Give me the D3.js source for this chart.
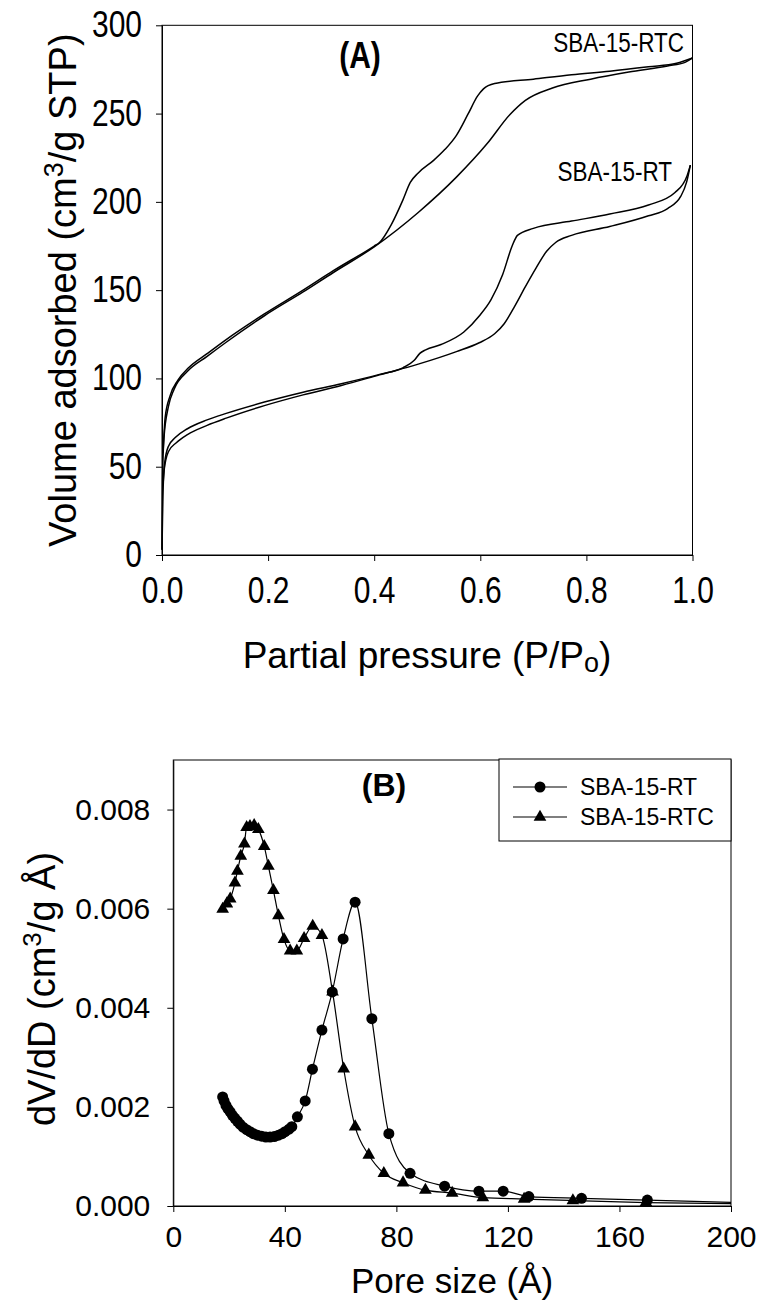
<!DOCTYPE html>
<html>
<head>
<meta charset="utf-8">
<script src="https://cdn.jsdelivr.net/npm/d3@7"></script>
<style>
  body { margin: 0; background: #fff; }
  svg { display: block; font-family: "Liberation Sans", Arial, sans-serif; }
</style>
</head>
<body>
<svg id="chart" width="762" height="1306"></svg>
<script>
// Panel A: N2 isotherms, [P/Po, volume adsorbed]
const rtAdsorption = [
  [0, 3], [0.0015, 30], [0.004, 48], [0.012, 58.5], [0.027, 63.6], [0.048, 68.2],
  [0.085, 73.4], [0.121, 77.5], [0.193, 84.6], [0.266, 90.7], [0.338, 96], [0.41, 102],
  [0.483, 108.1], [0.555, 115.2], [0.598, 120.2], [0.627, 125.3], [0.645, 131],
  [0.665, 141], [0.685, 152], [0.705, 162.5], [0.725, 172], [0.742, 177], [0.772, 181],
  [0.844, 186], [0.917, 192.1], [0.953, 196.2], [0.978, 203.2], [0.989, 211.3], [0.996, 220.8]
];
const rtDesorption = [
  [0.002, 40], [0.005, 52], [0.012, 61.5], [0.025, 66.5], [0.048, 71.5], [0.085, 76.5],
  [0.121, 80.2], [0.193, 86.6], [0.266, 92.2], [0.338, 97], [0.41, 102.3], [0.454, 106],
  [0.475, 110.1], [0.486, 114.2], [0.497, 116.2], [0.526, 119.2], [0.569, 126.3],
  [0.598, 135.4], [0.62, 144.5], [0.642, 158.7], [0.66, 175], [0.67, 181], [0.7, 185],
  [0.772, 189.1], [0.844, 193.1], [0.917, 198.2], [0.967, 205.3], [0.99, 215], [0.996, 220.8]
];
const rtcAdsorption = [
  [0, 3], [0.001, 42], [0.0036, 66], [0.012, 84], [0.023, 94], [0.048, 104],
  [0.085, 112.5], [0.121, 120.5], [0.193, 135.5], [0.266, 149], [0.323, 160], [0.4, 174.5],
  [0.483, 194], [0.555, 214], [0.613, 233], [0.656, 249.5], [0.685, 257.5], [0.736, 264.5],
  [0.808, 269.5], [0.88, 273.5], [0.953, 277], [0.986, 279], [1.0, 281.5]
];
const rtcDesorption = [
  [0.002, 58], [0.006, 78], [0.015, 90], [0.03, 99], [0.05, 106], [0.085, 114],
  [0.121, 122], [0.193, 136.5], [0.266, 150], [0.323, 161], [0.4, 175], [0.41, 177],
  [0.432, 187], [0.454, 201], [0.468, 211], [0.483, 216.4], [0.512, 223.5], [0.533, 229.6],
  [0.555, 237.7], [0.577, 249.8], [0.595, 260], [0.606, 264], [0.627, 267], [0.7, 269.5],
  [0.772, 272], [0.844, 274], [0.917, 276.5], [0.97, 278.5], [1.0, 281.5]
];

// Panel B: pore size distribution, pore size (Å) and dV/dD
const poreRT = [
  17.7, 18.2, 18.9, 19.6, 20.4, 21.2, 22.1, 23.0, 23.9, 25.0, 26.3, 27.5, 28.7, 30.2,
  31.7, 33.2, 34.7, 36.2, 37.7, 39.0, 40.1, 41.5, 42.5, 44.5, 47.3, 49.9, 53.3, 57.0,
  60.9, 65.2, 71.2, 77.3, 84.9, 97.3, 109.6, 118.3, 127.5, 146.4, 170.0, 210
];
const dvRT = [
  0.0022, 0.00212, 0.00203, 0.00196, 0.0019, 0.00183, 0.00177, 0.00171, 0.00165, 0.00159,
  0.00154, 0.0015, 0.00146, 0.00143, 0.00141, 0.00139, 0.00139, 0.0014, 0.00143, 0.00146,
  0.0015, 0.00155, 0.0016, 0.0018, 0.00212, 0.00276, 0.00355, 0.00432, 0.00539, 0.00613,
  0.00378, 0.00146, 0.00066, 0.0004, 0.0003, 0.0003, 0.00019, 0.000155, 0.00012, 0.00006
];
const poreRTC = [
  17.7, 19.2, 20.4, 22.1, 23.0, 24.2, 25.5, 26.3, 27.5, 29.0, 30.5, 32.6, 34.1, 35.9,
  37.7, 39.7, 41.9, 44.3, 46.9, 50.0, 53.3, 57.1, 61.1, 65.2, 70.1, 75.5, 82.4, 90.4,
  100.0, 111.0, 125.8, 143.3, 169.5, 210
];
const dvRTC = [
  0.00599, 0.0061, 0.0062, 0.00652, 0.00676, 0.00706, 0.00731, 0.00764, 0.00766, 0.00768,
  0.0076, 0.00726, 0.00686, 0.00637, 0.00586, 0.00538, 0.00515, 0.00515, 0.0054, 0.00565,
  0.00546, 0.00432, 0.00277, 0.0016, 0.00103, 0.00066, 0.00047, 0.00032, 0.00026, 0.00017,
  0.00014, 0.00011, 0.00007, 0.00004
];

const pressureTicks = [0, 0.2, 0.4, 0.6, 0.8, 1.0];
const volumeTicks = [0, 50, 100, 150, 200, 250, 300];
const poreTicks = [0, 40, 80, 120, 160, 200];
const dvTicks = [0, 0.002, 0.004, 0.006, 0.008];

const svg = d3.select("#chart");

function styleAxis(g, size) {
  g.attr("font-family", null).attr("font-size", size);
  g.selectAll("text").attr("fill", "#000");
  g.selectAll("line, path").attr("stroke", "#000");
}

// panel A text is a bit taller than wide in the source figure
const stretchA = 1.2;

// ---------- Panel A ----------
const xA = d3.scaleLinear([0, 1], [162, 692.5]);
const yA = d3.scaleLinear([0, 300], [555, 25.3]);

svg.append("g")
  .attr("transform", `translate(0,${yA(0)})`)
  .call(d3.axisBottom(xA).tickValues(pressureTicks).tickFormat(d3.format(".1f"))
    .tickSize(6).tickSizeOuter(0).tickPadding(16))
  .call(g => styleAxis(g, 30))
  .call(g => g.selectAll("text")
    .attr("y", 19)
    .attr("transform", `scale(1,${stretchA})`));

svg.append("g")
  .attr("transform", `translate(${xA(0)},0)`)
  .call(d3.axisLeft(yA).tickValues(volumeTicks).tickFormat(d3.format("d"))
    .tickSize(6).tickSizeOuter(0).tickPadding(14))
  .call(g => styleAxis(g, 30))
  .call(g => g.selectAll("text").attr("transform", `scale(1,${stretchA})`));

svg.append("rect")
  .attr("x", xA(0)).attr("y", yA(300))
  .attr("width", xA(1) - xA(0)).attr("height", yA(0) - yA(300))
  .attr("fill", "none").attr("stroke", "#000").attr("stroke-width", 1);

const lineA = d3.line().x(d => xA(d[0])).y(d => yA(d[1])).curve(d3.curveMonotoneX);

[rtAdsorption, rtDesorption, rtcAdsorption, rtcDesorption].forEach(s => {
  svg.append("path")
    .attr("d", lineA(s))
    .attr("fill", "none")
    .attr("stroke", "#000")
    .attr("stroke-width", 1.5);
});

svg.append("text")
  .attr("transform", `translate(360,68) scale(1,${stretchA})`)
  .attr("text-anchor", "middle")
  .attr("font-size", 30).attr("font-weight", "bold")
  .text("(A)");

svg.append("text")
  .attr("transform", `translate(684,52) scale(1,${stretchA})`)
  .attr("text-anchor", "end").attr("font-size", 22.5)
  .text("SBA-15-RTC");

svg.append("text")
  .attr("transform", `translate(672,181) scale(1,${stretchA})`)
  .attr("text-anchor", "end").attr("font-size", 22.5)
  .text("SBA-15-RT");

// x title with subscript o
const xTitleA = svg.append("text")
  .attr("x", 427).attr("y", 668)
  .attr("text-anchor", "middle").attr("font-size", 37);
xTitleA.append("tspan").text("Partial pressure (P/P");
xTitleA.append("tspan").attr("font-size", 27).attr("dy", 4).text("o");
xTitleA.append("tspan").attr("dy", -4).text(")");

// y title with superscript 3
const yTitleA = svg.append("text")
  .attr("transform", `translate(76,${(yA(0) + yA(300)) / 2}) rotate(-90)`)
  .attr("text-anchor", "middle").attr("font-size", 38);
yTitleA.append("tspan").text("Volume adsorbed (cm");
yTitleA.append("tspan").attr("font-size", 27).attr("dy", -13).text("3");
yTitleA.append("tspan").attr("dy", 13).text("/g STP)");

// ---------- Panel B ----------
const xB = d3.scaleLinear([0, 200], [173.3, 731]);
const yB = d3.scaleLinear([0, 0.009], [1206, 760]);

svg.append("g")
  .attr("transform", `translate(0,${yB(0)})`)
  .call(d3.axisBottom(xB).tickValues(poreTicks).tickFormat(d3.format("d"))
    .tickSize(6).tickSizeOuter(0).tickPadding(14))
  .call(g => styleAxis(g, 30));

svg.append("g")
  .attr("transform", `translate(${xB(0)},0)`)
  .call(d3.axisLeft(yB).tickValues(dvTicks).tickFormat(d3.format(".3f"))
    .tickSize(6).tickSizeOuter(0).tickPadding(17))
  .call(g => styleAxis(g, 30));

svg.append("rect")
  .attr("x", xB(0)).attr("y", yB(0.009))
  .attr("width", xB(200) - xB(0)).attr("height", yB(0) - yB(0.009))
  .attr("fill", "none").attr("stroke", "#000").attr("stroke-width", 1);

svg.append("clipPath").attr("id", "clipB")
  .append("rect")
  .attr("x", xB(0)).attr("y", yB(0.009))
  .attr("width", xB(200) - xB(0)).attr("height", yB(0) - yB(0.009));

const plotB = svg.append("g").attr("clip-path", "url(#clipB)");

const seriesB = [
  { name: "SBA-15-RT", x: poreRT, y: dvRT, symbol: d3.symbolCircle, size: 95 },
  { name: "SBA-15-RTC", x: poreRTC, y: dvRTC, symbol: d3.symbolTriangle, size: 70 }
];

const lineB = d3.line().x(d => xB(d[0])).y(d => yB(d[1])).curve(d3.curveMonotoneX);

seriesB.forEach(s => {
  const pts = s.x.map((v, i) => [v, s.y[i]]);
  plotB.append("path")
    .attr("d", lineB(pts))
    .attr("fill", "none")
    .attr("stroke", "#000")
    .attr("stroke-width", 1.2);
  plotB.append("g")
    .selectAll("path")
    .data(pts)
    .join("path")
    .attr("transform", d => `translate(${xB(d[0])},${yB(d[1])})`)
    .attr("d", d3.symbol(s.symbol, s.size))
    .attr("fill", "#000");
});

svg.append("text")
  .attr("x", 384).attr("y", 796)
  .attr("text-anchor", "middle")
  .attr("font-size", 32).attr("font-weight", "bold")
  .text("(B)");

// legend
const legend = svg.append("g");
legend.append("rect")
  .attr("x", 499).attr("y", 759).attr("width", 232).attr("height", 82)
  .attr("fill", "#fff").attr("stroke", "#000").attr("stroke-width", 1);

seriesB.forEach((s, i) => {
  const cy = 787 + i * 30;
  legend.append("line")
    .attr("x1", 513).attr("x2", 567).attr("y1", cy).attr("y2", cy)
    .attr("stroke", "#000").attr("stroke-width", 1.2);
  legend.append("path")
    .attr("transform", `translate(540,${cy})`)
    .attr("d", d3.symbol(s.symbol, s.size))
    .attr("fill", "#000");
  legend.append("text")
    .attr("x", 580).attr("y", cy + 8)
    .attr("font-size", 23)
    .text(s.name);
});

svg.append("text")
  .attr("x", (xB(0) + xB(200)) / 2).attr("y", 1293)
  .attr("text-anchor", "middle").attr("font-size", 35)
  .text("Pore size (Å)");

const yTitleB = svg.append("text")
  .attr("transform", `translate(55,${(yB(0) + yB(0.009)) / 2 + 6}) rotate(-90)`)
  .attr("text-anchor", "middle").attr("font-size", 38);
yTitleB.append("tspan").text("dV/dD (cm");
yTitleB.append("tspan").attr("font-size", 26).attr("dy", -14).text("3");
yTitleB.append("tspan").attr("dy", 14).text("/g Å)");
</script>
</body>
</html>
